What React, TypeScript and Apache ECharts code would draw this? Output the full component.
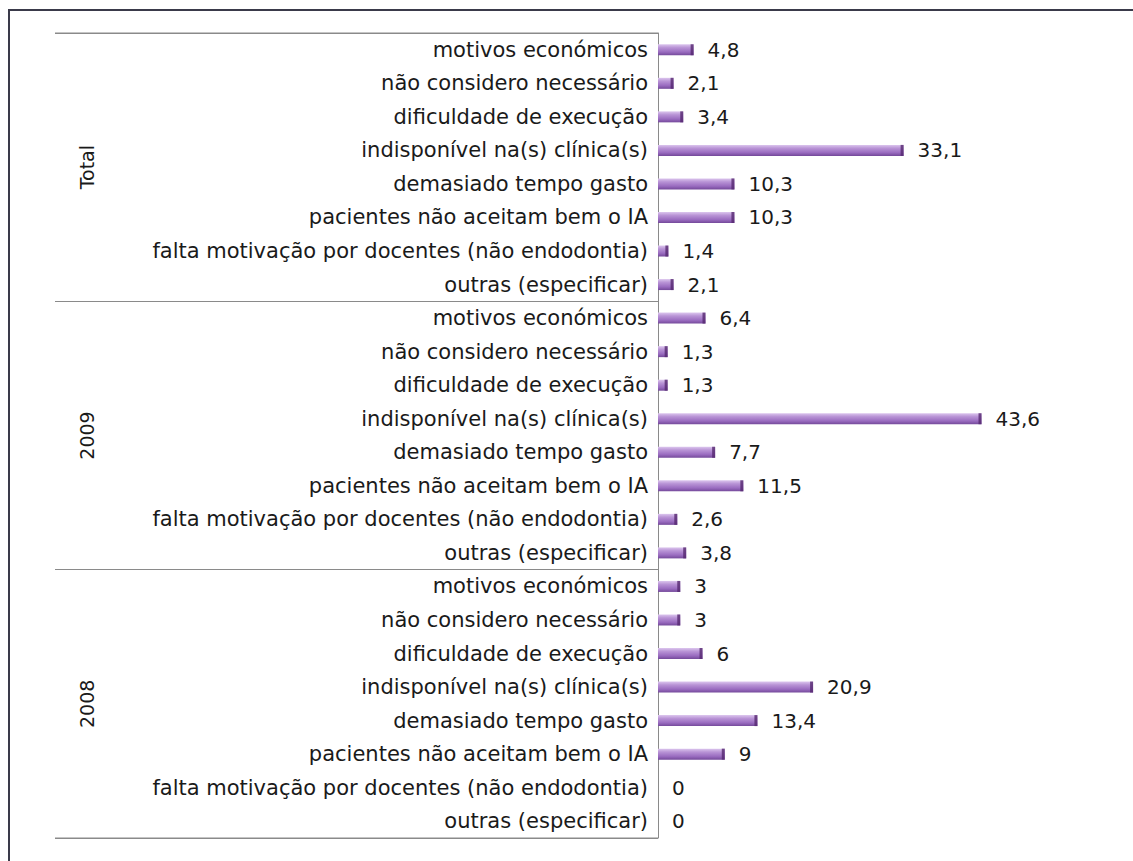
import React, { useEffect, useRef } from "react";
import * as echarts from "echarts";

const groups = ["Total", "2009", "2008"];
const reasons = [
  "motivos económicos",
  "não considero necessário",
  "dificuldade de execução",
  "indisponível na(s) clínica(s)",
  "demasiado tempo gasto",
  "pacientes não aceitam bem o IA",
  "falta motivação por docentes (não endodontia)",
  "outras (especificar)",
];
const totalValues = [4.8, 2.1, 3.4, 33.1, 10.3, 10.3, 1.4, 2.1];
const values2009 = [6.4, 1.3, 1.3, 43.6, 7.7, 11.5, 2.6, 3.8];
const values2008 = [3, 3, 6, 20.9, 13.4, 9, 0, 0];

const categories = [...reasons, ...reasons, ...reasons].map((r, i) => `${Math.floor(i / 8)}|${r}`);
const values = [...totalValues, ...values2009, ...values2008];

const FONT = "'DejaVu Sans', sans-serif";

export default function App() {
  const ref = useRef<HTMLDivElement>(null);
  useEffect(() => {
    if (!ref.current) return;
    const chart = echarts.init(ref.current, undefined, { renderer: "svg" });
    const top = 33;
    const bottom = 861 - 838;
    chart.setOption({
      animation: false,
      backgroundColor: "#ffffff",
      grid: [
        { left: 658, top, bottom, width: 371, containLabel: false },
        { left: 55, top, bottom, width: 603, containLabel: false },
      ],
      xAxis: [
        { type: "value", gridIndex: 0, min: 0, max: 50, show: false },
        { type: "value", gridIndex: 1, min: 0, max: 1, show: false },
      ],
      yAxis: [
        {
          type: "category",
          gridIndex: 0,
          inverse: true,
          data: categories,
          axisLine: { show: true, lineStyle: { color: "#8a8a8a", width: 1 } },
          axisTick: { show: false },
          axisLabel: {
            margin: 10,
            fontFamily: FONT,
            fontSize: 21,
            color: "#1a1a1a",
            formatter: (v: string) => v.split("|")[1],
          },
        },
        {
          type: "category",
          gridIndex: 1,
          inverse: true,
          data: groups,
          axisLine: { show: false },
          axisTick: { show: false },
          splitLine: { show: true, lineStyle: { color: "#8a8a8a", width: 1 } },
          axisLabel: {
            inside: true,
            margin: 22,
            rotate: 90,
            fontFamily: FONT,
            fontSize: 19,
            color: "#1a1a1a",
          },
        },
      ],
      graphic: [
        {
          type: "polyline",
          shape: { points: [[9, 900], [9, 10], [1200, 10]] },
          style: { stroke: "#3a3a4a", lineWidth: 2, fill: "none" },
          silent: true,
        },
        {
          type: "line",
          shape: { x1: 55, y1: 838, x2: 658, y2: 838 },
          style: { stroke: "#8a8a8a", lineWidth: 1 },
          silent: true,
        },
        {
          type: "line",
          shape: { x1: 55, y1: 33, x2: 658, y2: 33 },
          style: { stroke: "#8a8a8a", lineWidth: 1 },
          silent: true,
        },
      ],
      series: [
        {
          type: "bar",
          xAxisIndex: 0,
          yAxisIndex: 0,
          data: values,
          barWidth: 11,
          itemStyle: {
            color: new echarts.graphic.LinearGradient(0, 0, 0, 1, [
              { offset: 0, color: "#dcc6ee" },
              { offset: 0.3, color: "#b994d6" },
              { offset: 0.7, color: "#9a6cc0" },
              { offset: 1, color: "#74499a" },
            ]),
          },
          label: {
            show: true,
            position: "right",
            distance: 14,
            fontFamily: FONT,
            fontSize: 20,
            color: "#1a1a1a",
            formatter: (p: any) => String(p.value).replace(".", ","),
          },
        },
        {
          type: "scatter",
          xAxisIndex: 0,
          yAxisIndex: 0,
          data: values.map((v) => (v > 0 ? v : "-")),
          symbol: "rect",
          symbolSize: [3, 11],
          symbolOffset: [-1.5, 0],
          itemStyle: { color: "#55286f" },
          silent: true,
        },
      ],
    });
    return () => chart.dispose();
  }, []);
  return (
    <div
      ref={ref}
      style={{ position: "fixed", left: 0, top: 0, width: 1133, height: 861, background: "#fff" }}
    />
  );
}
